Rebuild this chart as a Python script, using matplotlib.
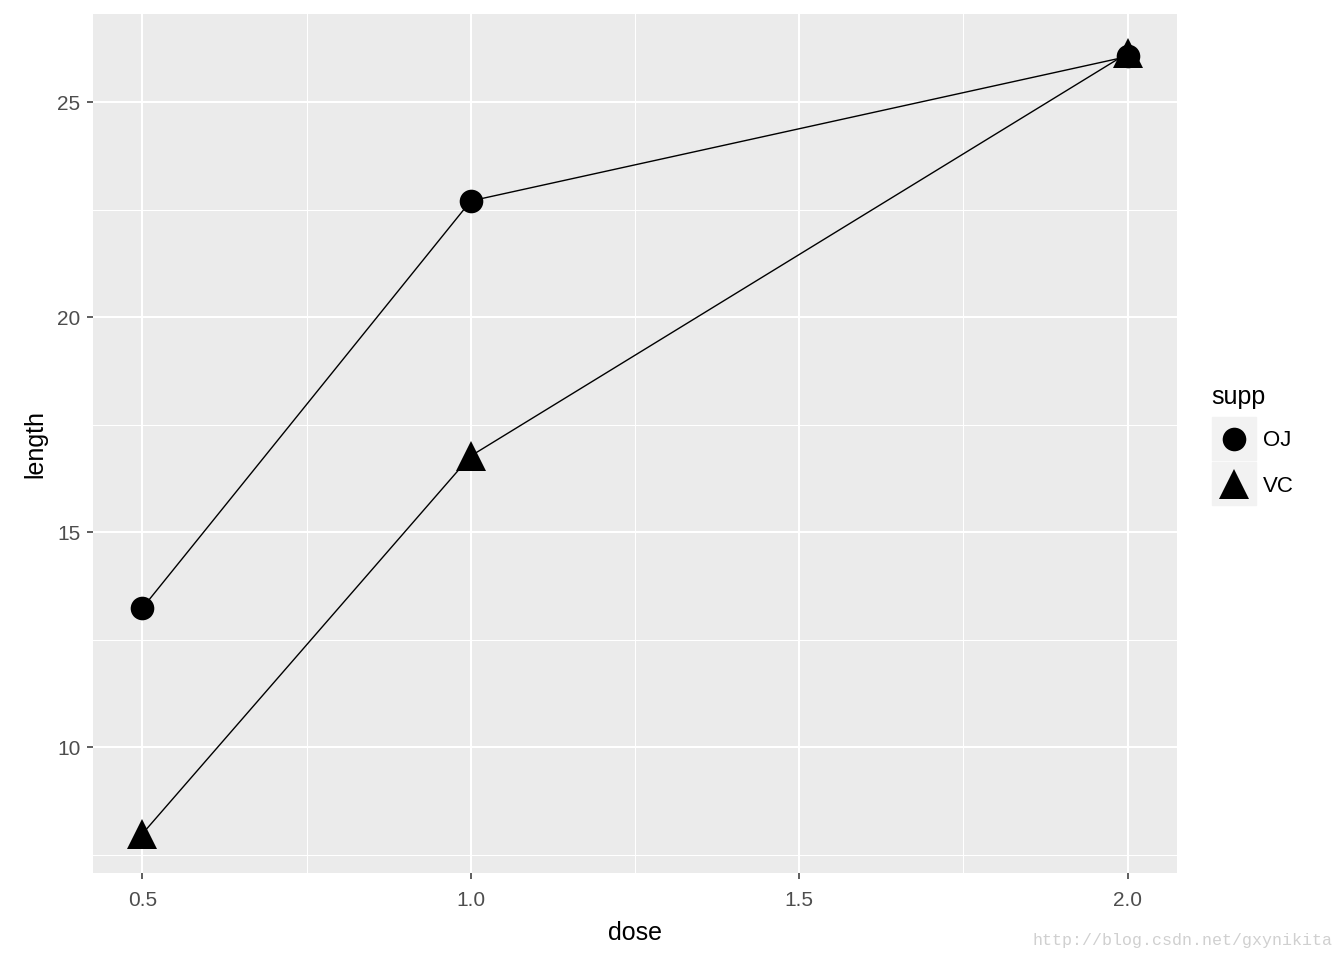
import matplotlib
matplotlib.use("Agg")
import matplotlib.pyplot as plt
from matplotlib.lines import Line2D
from matplotlib.patches import Rectangle

plt.rcParams['font.family'] = ['Liberation Sans', 'DejaVu Sans']

dose = [0.5, 1.0, 2.0]
oj_len = [13.23, 22.70, 26.06]
vc_len = [7.98, 16.77, 26.14]
supp = ['OJ', 'VC']
x_ticks = [0.5, 1.0, 1.5, 2.0]
y_ticks = [10, 15, 20, 25]

fig = plt.figure(figsize=(13.44, 9.6), dpi=100)
ax = fig.add_axes([93/1344, 87/960, (1177-93)/1344, (873-14)/960])
ax.set_facecolor('#EBEBEB')
for s in ax.spines.values():
    s.set_visible(False)

ax.set_xlim(0.425, 2.075)
ax.set_ylim(7.072, 27.048)
ax.set_xticks(x_ticks)
ax.set_xticklabels(['0.5', '1.0', '1.5', '2.0'])
ax.set_yticks(y_ticks)
ax.set_xticks([0.75, 1.25, 1.75], minor=True)
ax.set_yticks([7.5, 12.5, 17.5, 22.5], minor=True)
ax.grid(True, which='major', color='white', lw=1.5)
ax.grid(True, which='minor', color='white', lw=0.75)
ax.set_axisbelow(True)
ax.tick_params(which='major', length=4, width=1.1, color='#333333',
               labelcolor='#4D4D4D', labelsize=15)
ax.tick_params(axis='x', which='major', pad=9)
ax.tick_params(axis='y', which='major', pad=5)
ax.tick_params(which='minor', length=0)

ax.plot(dose, oj_len, color='black', lw=1.0, marker='o', ms=17, mew=0, zorder=3)
ax.plot(dose, vc_len, color='black', lw=1.0, marker='^', ms=21, mew=0, zorder=3)

ax.set_xlabel('dose', fontsize=18, labelpad=8)
ax.set_ylabel('length', fontsize=18, labelpad=7)

# legend drawn by hand, ggplot style
fig.text(1211/1344, 1 - 397/960, 'supp', fontsize=18, va='center', ha='left')
markers = ['o', '^']
sizes = [17, 21]
for i, name in enumerate(supp):
    top = 417 + i * 45
    fig.patches.append(Rectangle((1212/1344, 1 - (top + 43)/960), 44/1344, 43/960,
                                 transform=fig.transFigure, color='#F2F2F2', zorder=1))
    cy = 1 - (top + 21.5)/960
    fig.add_artist(Line2D([1234/1344], [cy], marker=markers[i], ms=sizes[i], mew=0,
                          color='black', transform=fig.transFigure, zorder=2))
    fig.text(1263/1344, cy - 2.5/960, name, fontsize=16, va='center', ha='left')

fig.text(1333/1344, 1 - 940/960, 'http://blog.csdn.net/gxynikita', fontsize=12,
         color='#D0D0D0', family='Liberation Mono', ha='right', va='center')

fig.savefig('out.png', dpi=100)
